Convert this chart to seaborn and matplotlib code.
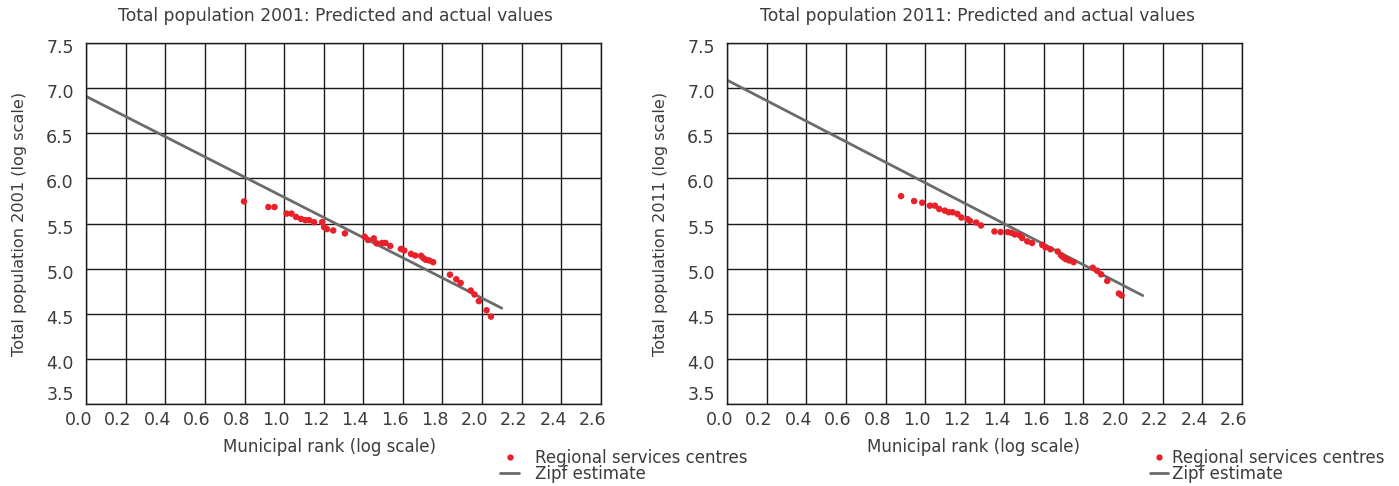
import numpy as np
import pandas as pd
import seaborn as sns
import matplotlib
matplotlib.use("Agg")
from matplotlib import pyplot as plt
from matplotlib.lines import Line2D
from matplotlib.transforms import ScaledTranslation

# Regional services centres, 2001 (log rank, log population)
rank_2001 = [0.797, 0.920, 0.951, 1.012, 1.037, 1.060, 1.085, 1.107, 1.126, 1.151,
             1.192, 1.202, 1.216, 1.248, 1.307, 1.407, 1.424, 1.453, 1.467, 1.495,
             1.512, 1.536, 1.590, 1.607, 1.641, 1.662, 1.692, 1.704, 1.716, 1.733,
             1.753, 1.838, 1.870, 1.892, 1.943, 1.962, 1.984, 2.023, 2.045]
pop_2001 = [5.745, 5.683, 5.683, 5.610, 5.610, 5.573, 5.551, 5.537, 5.537, 5.515,
            5.515, 5.460, 5.438, 5.423, 5.390, 5.353, 5.317, 5.335, 5.280, 5.284,
            5.284, 5.251, 5.218, 5.200, 5.163, 5.145, 5.141, 5.115, 5.097, 5.090,
            5.071, 4.932, 4.881, 4.840, 4.756, 4.712, 4.639, 4.537, 4.467]

# Regional services centres, 2011
rank_2011 = [0.878, 0.944, 0.985, 1.024, 1.049, 1.071, 1.099, 1.119, 1.138, 1.163,
             1.183, 1.214, 1.226, 1.258, 1.282, 1.350, 1.381, 1.418, 1.436, 1.453,
             1.476, 1.490, 1.516, 1.540, 1.592, 1.608, 1.633, 1.670, 1.687, 1.699,
             1.711, 1.728, 1.750, 1.847, 1.869, 1.889, 1.920, 1.979, 1.993]
pop_2011 = [5.804, 5.749, 5.731, 5.698, 5.698, 5.661, 5.643, 5.625, 5.625, 5.606,
            5.566, 5.548, 5.529, 5.511, 5.478, 5.412, 5.405, 5.405, 5.397, 5.379,
            5.372, 5.339, 5.302, 5.284, 5.262, 5.236, 5.214, 5.189, 5.145, 5.123,
            5.104, 5.090, 5.071, 5.009, 4.976, 4.936, 4.863, 4.723, 4.701]

# Zipf estimate lines (end points)
zipf_rank = [0.0, 2.1]
zipf_2001 = [6.91, 4.56]
zipf_2011 = [7.09, 4.70]

x_ticks = np.round(np.arange(0, 2.61, 0.2), 1)
y_ticks = np.round(np.arange(3.5, 7.51, 0.5), 1)

sns.set_style("white")
plt.rcParams['font.family'] = ['DejaVu Sans']
text_col = '#3c3c3c'
red = '#e8202a'
grey = '#6b6b6b'

fig = plt.figure(figsize=(13.99, 4.86), dpi=100)
ax1 = fig.add_axes([0.0617, 0.1693, 0.3677, 0.7416])
ax2 = fig.add_axes([0.5199, 0.1693, 0.3677, 0.7416])

# (axis, x, y, zipf, year, title x, xlabel x, legend anchor x, handletextpad)
panels = [
    (ax1, rank_2001, pop_2001, zipf_2001, "2001", 0.484, 0.473, 0.347, 0.95),
    (ax2, rank_2011, pop_2011, zipf_2011, "2011", 0.487, 0.479, 0.811, 0.25),
]

for ax, xr, yp, zp, year, tx, lx, leg_x, htp in panels:
    pts = pd.DataFrame({"rank": xr, "pop": yp})
    line = pd.DataFrame({"rank": zipf_rank, "pop": zp})
    sns.lineplot(data=line, x="rank", y="pop", ax=ax, color=grey, linewidth=2)
    sns.scatterplot(data=pts, x="rank", y="pop", ax=ax, color=red, s=22,
                    edgecolor='none', zorder=3)
    ax.set_xlim(0, 2.6)
    ax.set_ylim(3.5, 7.5)
    ax.set_xticks(x_ticks)
    ax.set_yticks(y_ticks)
    ax.set_xticklabels([f"{v:.1f}" for v in x_ticks])
    ax.set_yticklabels([f"{v:.1f}" for v in y_ticks])
    ax.grid(True, color='#1a1a1a', linewidth=1)
    ax.set_axisbelow(True)
    for sp in ax.spines.values():
        sp.set_color('#1a1a1a')
        sp.set_linewidth(1)
    ax.tick_params(axis='both', length=0, labelsize=12.5, colors=text_col)
    ax.tick_params(axis='x', pad=5)
    ax.tick_params(axis='y', pad=9)
    # labels in the original sit a little left of / below their grid lines
    for lab in ax.get_xticklabels():
        lab.set_transform(lab.get_transform() + ScaledTranslation(-0.08, 0, fig.dpi_scale_trans))
    ylabs = ax.get_yticklabels()
    for lab in ylabs[1:]:
        lab.set_transform(lab.get_transform() + ScaledTranslation(0, -0.03, fig.dpi_scale_trans))
    # the bottom one is lifted clear of the x labels
    ylabs[0].set_transform(ylabs[0].get_transform() + ScaledTranslation(0, 0.11, fig.dpi_scale_trans))
    ax.set_title(f"Total population {year}: Predicted and actual values",
                 fontsize=12.3, color=text_col, pad=16, x=tx)
    ax.set_xlabel("Municipal rank (log scale)", fontsize=12, color=text_col, labelpad=7, x=lx)
    ax.set_ylabel(f"Total population {year} (log scale)", fontsize=11.6, color=text_col, labelpad=14)
    handles = [Line2D([], [], marker='o', linestyle='none', color=red, markersize=3.5),
               Line2D([], [], color=grey, linewidth=2)]
    fig.legend(handles, ["Regional services centres", "Zipf estimate"],
               loc='upper left', bbox_to_anchor=(leg_x, 0.108), frameon=False,
               fontsize=12, handlelength=1.1, handletextpad=htp, labelspacing=-0.1,
               labelcolor=text_col)

fig.savefig("out.png", dpi=100)
